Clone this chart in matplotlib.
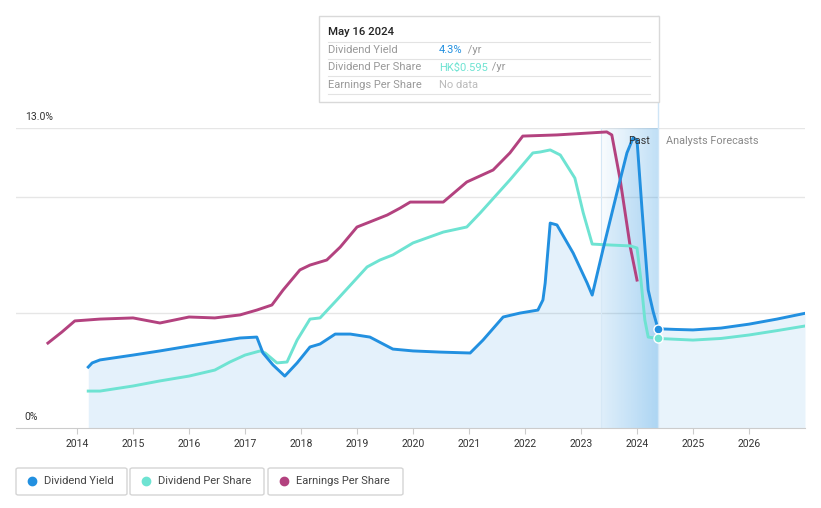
import numpy as np
import matplotlib.pyplot as plt
from matplotlib.patches import Rectangle, FancyBboxPatch
from matplotlib.colors import to_rgb

plt.rcParams['font.family'] = ['Roboto', 'DejaVu Sans']

# Data (yield in %, other series drawn in the same axis units)

dy_years = [2014.20, 2014.27, 2014.41, 2015.0, 2015.48, 2016.0, 2016.46, 2016.91,
            2017.21, 2017.32, 2017.5, 2017.71, 2017.93, 2018.16, 2018.34, 2018.61,
            2018.88, 2019.23, 2019.64, 2020.0, 2020.48, 2021.02, 2021.25, 2021.61,
            2021.91, 2022.23, 2022.32, 2022.36, 2022.45, 2022.57, 2022.86, 2023.11,
            2023.20, 2023.39, 2023.64, 2023.82, 2023.93, 2024.0, 2024.09, 2024.20,
            2024.29, 2024.375]
dy_vals = [2.64, 2.82, 2.95, 3.16, 3.34, 3.55, 3.73, 3.90,
           3.94, 3.25, 2.73, 2.25, 2.82, 3.51, 3.64, 4.07,
           4.07, 3.94, 3.42, 3.34, 3.29, 3.25, 3.81, 4.81,
           4.98, 5.11, 5.55, 6.28, 8.88, 8.80, 7.58, 6.28,
           5.76, 7.71, 10.18, 11.92, 12.57, 12.48, 9.45, 5.98,
           5.03, 4.30]
dy_fc_years = [2024.375, 2024.7, 2025.0, 2025.5, 2026.0, 2026.5, 2027.0]
dy_fc_vals = [4.30, 4.27, 4.25, 4.33, 4.50, 4.72, 4.97]

dps_years = [2014.20, 2014.41, 2015.0, 2015.48, 2016.0, 2016.46, 2016.73, 2017.0,
             2017.27, 2017.36, 2017.57, 2017.75, 2017.93, 2018.16, 2018.34, 2018.64,
             2019.18, 2019.41, 2019.64, 2020.0, 2020.54, 2020.96, 2021.20, 2021.73,
             2022.14, 2022.27, 2022.45, 2022.63, 2022.89, 2023.04, 2023.20, 2023.52,
             2023.88, 2024.0, 2024.07, 2024.14, 2024.20, 2024.375]
dps_vals = [1.60, 1.60, 1.82, 2.04, 2.25, 2.51, 2.86, 3.16,
            3.34, 3.25, 2.82, 2.86, 3.81, 4.72, 4.77, 5.55,
            6.98, 7.28, 7.50, 8.02, 8.49, 8.71, 9.32, 10.75,
            11.92, 11.96, 12.05, 11.83, 10.83, 9.32, 7.97, 7.93,
            7.89, 7.80, 6.41, 4.68, 3.94, 3.88]
dps_fc_years = [2024.375, 2025.0, 2025.5, 2026.0, 2026.5, 2027.0]
dps_fc_vals = [3.88, 3.81, 3.88, 4.03, 4.22, 4.42]

eps_years = [2013.48, 2013.73, 2013.96, 2014.41, 2015.0, 2015.48, 2016.0, 2016.46,
             2016.91, 2017.21, 2017.48, 2017.68, 2017.98, 2018.16, 2018.46, 2018.70,
             2019.0, 2019.23, 2019.54, 2019.77, 2019.95, 2020.54, 2020.96, 2021.43,
             2021.73, 2021.96, 2022.57, 2023.46, 2023.55, 2023.70, 2023.88, 2024.0]
eps_vals = [3.68, 4.16, 4.64, 4.72, 4.77, 4.55, 4.81, 4.77,
            4.90, 5.11, 5.33, 5.98, 6.85, 7.06, 7.28, 7.84,
            8.71, 8.93, 9.23, 9.53, 9.79, 9.79, 10.66, 11.18,
            11.92, 12.65, 12.70, 12.83, 12.70, 10.75, 7.84, 6.41]

year_ticks = list(range(2014, 2027))
today = 2024.375
band_start = 2023.36

blue = '#2290e0'
teal = '#6ee3d2'
magenta = '#b3427f'

W, H = 821, 508


def fx(x):
    return x / W


def fy(y):
    return 1 - y / H


fig = plt.figure(figsize=(8.21, 5.08), dpi=100)
ax = fig.add_axes([fx(16), fy(428), fx(805) - fx(16), fy(128) - fy(428)])
ax.set_xlim(2012.91, 2027.0)
ax.set_ylim(0, 13.0)

# gridlines
for g in [5, 10, 13.0]:
    ax.axhline(g, color='#e6e6e6', lw=1, zorder=0)

# fill under dividend yield
ax.fill_between(dy_years, dy_vals, 0, color=blue, alpha=0.12, lw=0, zorder=1)
ax.fill_between(dy_fc_years, dy_fc_vals, 0, color=blue, alpha=0.10, lw=0, zorder=1)

# past band gradient
rgb = to_rgb(blue)
grad = np.zeros((2, 256, 4))
grad[..., 0], grad[..., 1], grad[..., 2] = rgb
grad[..., 3] = np.linspace(0.04, 0.32, 256) ** 1.1
ax.imshow(grad, extent=[band_start, today, 0, 13.0], aspect='auto', zorder=1,
          interpolation='bilinear')
ax.axvline(band_start, color='#d6e8f6', lw=0.8, zorder=1)

# lines
ax.plot(eps_years, eps_vals, color=magenta, lw=2.1, solid_joinstyle='round', zorder=3)
ax.plot(dps_years, dps_vals, color=teal, lw=2.1, solid_joinstyle='round', zorder=3)
ax.plot(dps_fc_years, dps_fc_vals, color=teal, lw=2.1, zorder=3)
ax.plot(dy_years, dy_vals, color=blue, lw=2.1, solid_joinstyle='round', zorder=4)
ax.plot(dy_fc_years, dy_fc_vals, color=blue, lw=2.1, zorder=4)
ax.plot([today], [dy_vals[-1]], 'o', ms=6.5, color=blue, mec='white', mew=1, zorder=5)
ax.plot([today], [dps_vals[-1]], 'o', ms=6.5, color=teal, mec='white', mew=1, zorder=5)

# hover line
ax.plot([today, today], [0, 13.0], color='#cfe5f6', lw=1, zorder=2)
fig.add_artist(plt.Line2D([fx(658), fx(658)], [fy(128), fy(16)], color='#cfe5f6', lw=1))

# axes styling
for s in ['top', 'right', 'left']:
    ax.spines[s].set_visible(False)
ax.spines['bottom'].set_color('#cccccc')
ax.set_yticks([])
ax.set_xticks(year_ticks)
ax.set_xticklabels([str(y) for y in year_ticks])
ax.tick_params(axis='x', length=4, color='#cccccc', labelsize=7.5, labelcolor='#333333', pad=4)

ax.text(0.011, 13.25, '13.0%', transform=ax.get_yaxis_transform(), fontsize=7.5,
        color='#333333', va='bottom')
ax.text(0.011, 0.25, '0%', transform=ax.get_yaxis_transform(), fontsize=7.5,
        color='#333333', va='bottom')
ax.text(today - 0.15, 12.45, 'Past', fontsize=7.8, color='#333333', ha='right', va='center', zorder=6)
ax.text(today + 0.14, 12.45, 'Analysts Forecasts', fontsize=7.8, color='#888888', ha='left', va='center')

# tooltip
fig.add_artist(Rectangle((fx(319), fy(102)), fx(659) - fx(319), fy(16) - fy(102),
                         facecolor='white', edgecolor='#d9d9d9', lw=1, zorder=10))
fig.text(fx(328), fy(32), 'May 16 2024', fontsize=8.2, color='#222222', va='center',
         fontweight='medium', zorder=11)
for yy in [42, 59, 76, 94]:
    fig.add_artist(plt.Line2D([fx(328), fx(650)], [fy(yy), fy(yy)], color='#e3e3e3', lw=0.8, zorder=11))
rows = [('Dividend Yield', '4.3%', blue, ' /yr'),
        ('Dividend Per Share', 'HK$0.595', teal, ' /yr'),
        ('Earnings Per Share', 'No data', '#bbbbbb', '')]
for i, (lab, val, c, suf) in enumerate(rows):
    y = fy(50 + i * 17.5)
    fig.text(fx(328), y, lab, fontsize=8, color='#999999', va='center', zorder=11)
    fig.text(fx(439), y, val, fontsize=8, color=c, va='center', zorder=11)
    if suf:
        w = {'4.3%': 26, 'HK$0.595': 50}[val]
        fig.text(fx(439 + w), y, suf, fontsize=8, color='#999999', va='center', zorder=11)

# legend boxes
legend = [('Dividend Yield', blue, 16, 127), ('Dividend Per Share', teal, 130, 264),
          ('Earnings Per Share', magenta, 268, 403)]
for lab, c, x0, x1 in legend:
    fig.add_artist(FancyBboxPatch((fx(x0), fy(495)), fx(x1) - fx(x0), fy(468) - fy(495),
                                  boxstyle='round,pad=0,rounding_size=0.003',
                                  facecolor='white', edgecolor='#d5d5d5', lw=1))
    fig.add_artist(plt.Line2D([fx(x0 + 16)], [fy(481)], marker='o', ms=6, color=c, lw=0))
    fig.text(fx(x0 + 28), fy(481), lab, fontsize=8, color='#444444', va='center')

fig.savefig('out.png', dpi=100)
